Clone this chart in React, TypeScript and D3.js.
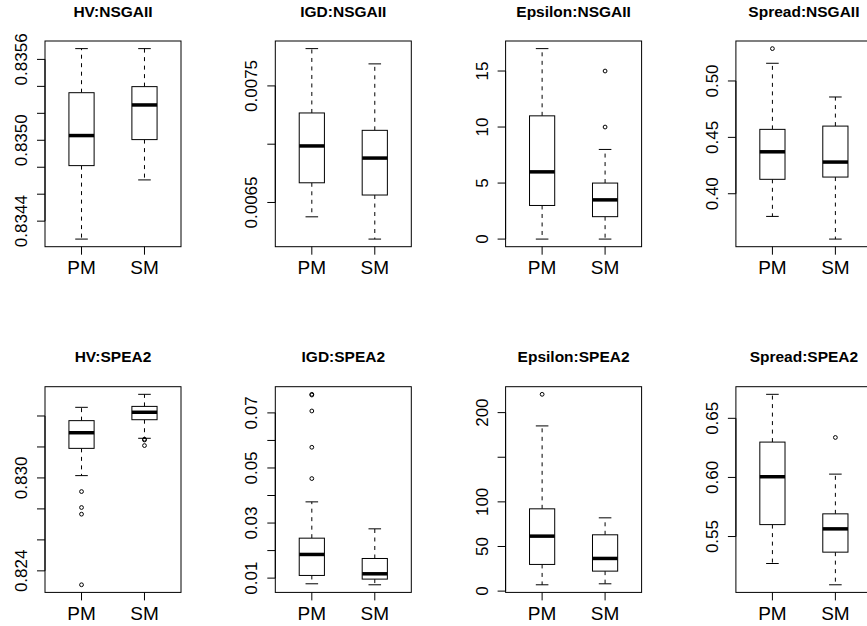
import React from "react";
import * as d3 from "d3";

// panels in par(mfrow = c(2, 4)) order
const titles = [
  "HV:NSGAII", "IGD:NSGAII", "Epsilon:NSGAII", "Spread:NSGAII",
  "HV:SPEA2", "IGD:SPEA2", "Epsilon:SPEA2", "Spread:SPEA2",
];
const groups = ["PM", "SM"];

// boxplot stats per panel, [PM, SM]
const lowWhisker = [
  [0.834267, 0.834706], [0.006377, 0.006186], [0, 0], [0.3799, 0.3598],
  [0.83015, 0.83256], [0.00794, 0.00758], [7.1, 8.2], [0.5272, 0.5092],
];
const q1 = [
  [0.834812, 0.835005], [0.006669, 0.006564], [3, 2], [0.4128, 0.4148],
  [0.83191, 0.83376], [0.01097, 0.00964], [29.9, 22.4], [0.5601, 0.5368],
];
const median = [
  [0.835035, 0.835262], [0.006985, 0.006881], [6, 3.5], [0.4372, 0.4281],
  [0.83292, 0.83424], [0.01859, 0.01157], [61.6, 36.6], [0.6006, 0.5565],
];
const q3 = [
  [0.835353, 0.835398], [0.007268, 0.007119], [11, 5], [0.4571, 0.46],
  [0.8337, 0.83462], [0.02451, 0.01713], [92.2, 63.1], [0.6299, 0.5692],
];
const highWhisker = [
  [0.83568, 0.83568], [0.00782, 0.007689], [17, 8], [0.5157, 0.4858],
  [0.83456, 0.8354], [0.03769, 0.0279], [185.1, 82.1], [0.6703, 0.6028],
];
const outliers: number[][][] = [
  [[], []], [[], []], [[], [10, 15]], [[0.5287], []],
  [[0.82912, 0.82809, 0.82766, 0.8231], [0.8325, 0.83245, 0.83209]],
  [[0.07675, 0.0765, 0.0707, 0.05752, 0.04615], []],
  [[220.5], []], [[], [0.6338]],
];

// y ticks, and the labels R kept (others dropped for overlap)
const yTicks = [
  [0.8344, 0.8346, 0.8348, 0.835, 0.8352, 0.8354, 0.8356],
  [0.0065, 0.007, 0.0075],
  [0, 5, 10, 15],
  [0.4, 0.45, 0.5],
  [0.824, 0.826, 0.828, 0.83, 0.832, 0.834],
  [0.01, 0.02, 0.03, 0.04, 0.05, 0.06, 0.07],
  [0, 50, 100, 150, 200],
  [0.55, 0.6, 0.65],
];
const yLabels = [
  ["0.8344", "", "", "0.8350", "", "", "0.8356"],
  ["0.0065", "", "0.0075"],
  ["0", "5", "10", "15"],
  ["0.40", "0.45", "0.50"],
  ["0.824", "", "", "0.830", "", ""],
  ["0.01", "", "0.03", "", "0.05", "", "0.07"],
  ["0", "50", "100", "", "200"],
  ["0.55", "0.60", "0.65"],
];

const W = 867;
const H = 626;
const colStep = 230.3;
const rowStep = 345.7;
const plotW = 136;
const plotH = 205.7;
const left0 = 45;
const top0 = 41;
const font = "'Liberation Sans', Arial, Helvetica, sans-serif";

const Panel = ({ i }: { i: number }) => {
  const col = i % 4;
  const row = Math.floor(i / 4);
  const left = left0 + col * colStep;
  const top = top0 + row * rowStep;
  const bottom = top + plotH;
  const right = left + plotW;

  const all = [
    ...lowWhisker[i], ...highWhisker[i],
    ...outliers[i][0], ...outliers[i][1],
  ];
  const [lo, hi] = d3.extent(all) as [number, number];
  const pad = (hi - lo) * 0.04;
  const y = d3.scaleLinear().domain([lo - pad, hi + pad]).range([bottom, top]);
  const x = d3.scaleLinear().domain([0.42, 2.58]).range([left, right]);
  const bw = x(1.4) - x(1);
  const staple = bw / 2;

  return (
    <g>
      <text x={(left + right) / 2} y={top - 24.5} textAnchor="middle"
        fontFamily={font} fontWeight="bold" fontSize={15.5}>{titles[i]}</text>
      {groups.map((g, j) => {
        const cx = x(j + 1);
        return (
          <g key={g}>
            <line x1={cx} x2={cx} y1={y(q3[i][j])} y2={y(highWhisker[i][j])}
              stroke="#000" strokeDasharray="4,4.5" />
            <line x1={cx} x2={cx} y1={y(q1[i][j])} y2={y(lowWhisker[i][j])}
              stroke="#000" strokeDasharray="4,4.5" />
            <line x1={cx - staple / 2} x2={cx + staple / 2}
              y1={y(highWhisker[i][j])} y2={y(highWhisker[i][j])} stroke="#000" />
            <line x1={cx - staple / 2} x2={cx + staple / 2}
              y1={y(lowWhisker[i][j])} y2={y(lowWhisker[i][j])} stroke="#000" />
            <rect x={cx - bw / 2} width={bw} y={y(q3[i][j])}
              height={y(q1[i][j]) - y(q3[i][j])} fill="#fff" stroke="#000" />
            <line x1={cx - bw / 2} x2={cx + bw / 2}
              y1={y(median[i][j])} y2={y(median[i][j])} stroke="#000" strokeWidth={3.5} />
            {outliers[i][j].map((v, k) => (
              <circle key={k} cx={cx} cy={y(v)} r={1.9} fill="none" stroke="#000" />
            ))}
            <line x1={cx} x2={cx} y1={bottom} y2={bottom + 8} stroke="#000" />
            <text x={cx} y={bottom + 27.5} textAnchor="middle"
              fontFamily={font} fontSize={19}>{g}</text>
          </g>
        );
      })}
      {/* y axis */}
      <line x1={left} x2={left} y1={y(yTicks[i][0])}
        y2={y(yTicks[i][yTicks[i].length - 1])} stroke="#000" />
      {yTicks[i].map((t, k) => (
        <g key={k}>
          <line x1={left - 8} x2={left} y1={y(t)} y2={y(t)} stroke="#000" />
          {yLabels[i][k] && (
            <text transform={`translate(${left - 18},${y(t)}) rotate(-90)`}
              textAnchor="middle" fontFamily={font} fontSize={17}>{yLabels[i][k]}</text>
          )}
        </g>
      ))}
      <rect x={left} y={top} width={plotW} height={plotH} fill="none" stroke="#000" />
    </g>
  );
};

export default function App() {
  return (
    <svg width={W} height={H} style={{ position: "absolute", left: 0, top: 0, background: "#fff" }}>
      <rect width={W} height={H} fill="#fff" />
      {titles.map((t, i) => <Panel key={t} i={i} />)}
    </svg>
  );
}
